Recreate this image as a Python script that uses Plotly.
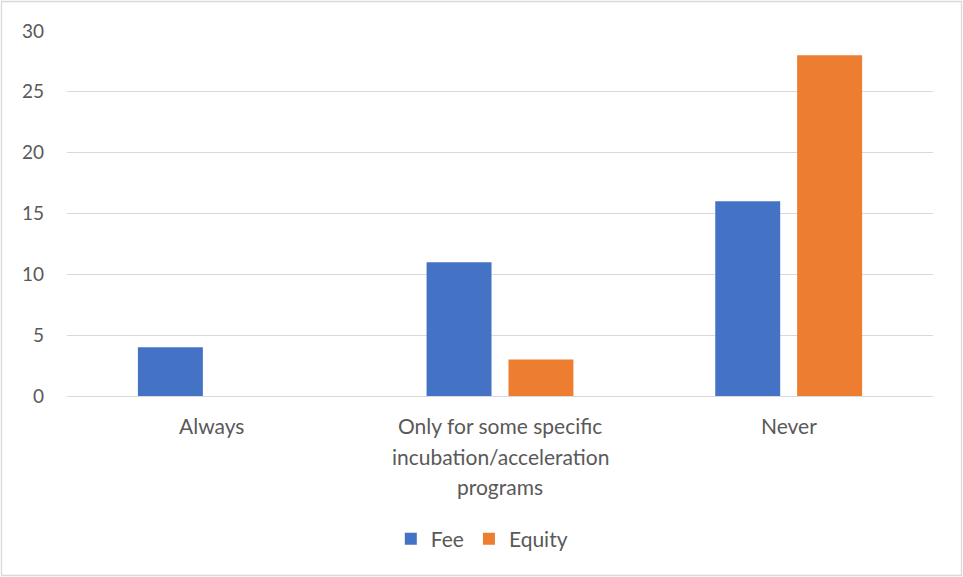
import plotly.graph_objects as go

# Survey answers: how often incubation/acceleration programs charge a fee or take equity
categories = ["Always", "Only for some specific<br>incubation/acceleration<br>programs", "Never"]
fee = [4, 11, 16]
equity = [0, 3, 28]
y_ticks = [0, 5, 10, 15, 20, 25, 30]

W, H = 963, 577
ML, MR, MT, MB = 67, 30, 31, 181
PW, PH = W - ML - MR, H - MT - MB

text_color = "#595959"
grid_color = "#D9D9D9"
font_family = "Lato, 'Open Sans', sans-serif"
label_size = 21

fig = go.Figure()
fig.add_trace(go.Bar(name="Fee", x=categories, y=fee, marker=dict(color="#4472C4", line=dict(width=0))))
fig.add_trace(go.Bar(name="Equity", x=categories, y=equity, marker=dict(color="#ED7D31", line=dict(width=0))))

# category labels, one annotation per line for Excel-like line spacing
annotations = []
line_h = 30
for cat in categories:
    for i, line in enumerate(cat.split("<br>")):
        annotations.append(dict(
            x=cat, xref="x", yref="paper",
            y=-(30 + i * line_h) / PH, yanchor="middle",
            text=line, showarrow=False,
            font=dict(size=label_size, color=text_color, family=font_family),
        ))

fig.update_layout(
    width=W, height=H,
    margin=dict(l=ML, r=MR, t=MT, b=MB),
    paper_bgcolor="white", plot_bgcolor="white",
    barmode="group", bargap=0.4325, bargroupgap=0.207,
    font=dict(family=font_family, size=label_size, color=text_color),
    xaxis=dict(showticklabels=False, showgrid=False, showline=False, zeroline=False, ticks=""),
    yaxis=dict(
        range=[0, 30], tickvals=y_ticks, showgrid=True, gridcolor=grid_color, gridwidth=1.3,
        zeroline=True, zerolinecolor=grid_color, zerolinewidth=1.3, showline=False,
        ticks="", ticklabelstandoff=22, tickfont=dict(size=19, color=text_color),
    ),
    legend=dict(
        orientation="h", x=0.479, xanchor="center", y=-(539 - MT - PH) / PH, yanchor="middle",
        font=dict(size=label_size, color=text_color), itemwidth=30,
    ),
    annotations=annotations,
    shapes=[dict(
        type="rect", xref="paper", yref="paper",
        x0=(1.5 - ML) / PW, x1=(W - 1.5 - ML) / PW,
        y0=-(MB - 1.5) / PH, y1=1 + (MT - 1.5) / PH,
        line=dict(color=grid_color, width=1.3), fillcolor="rgba(0,0,0,0)", layer="below",
    )],
)

fig.write_html("out.html")
